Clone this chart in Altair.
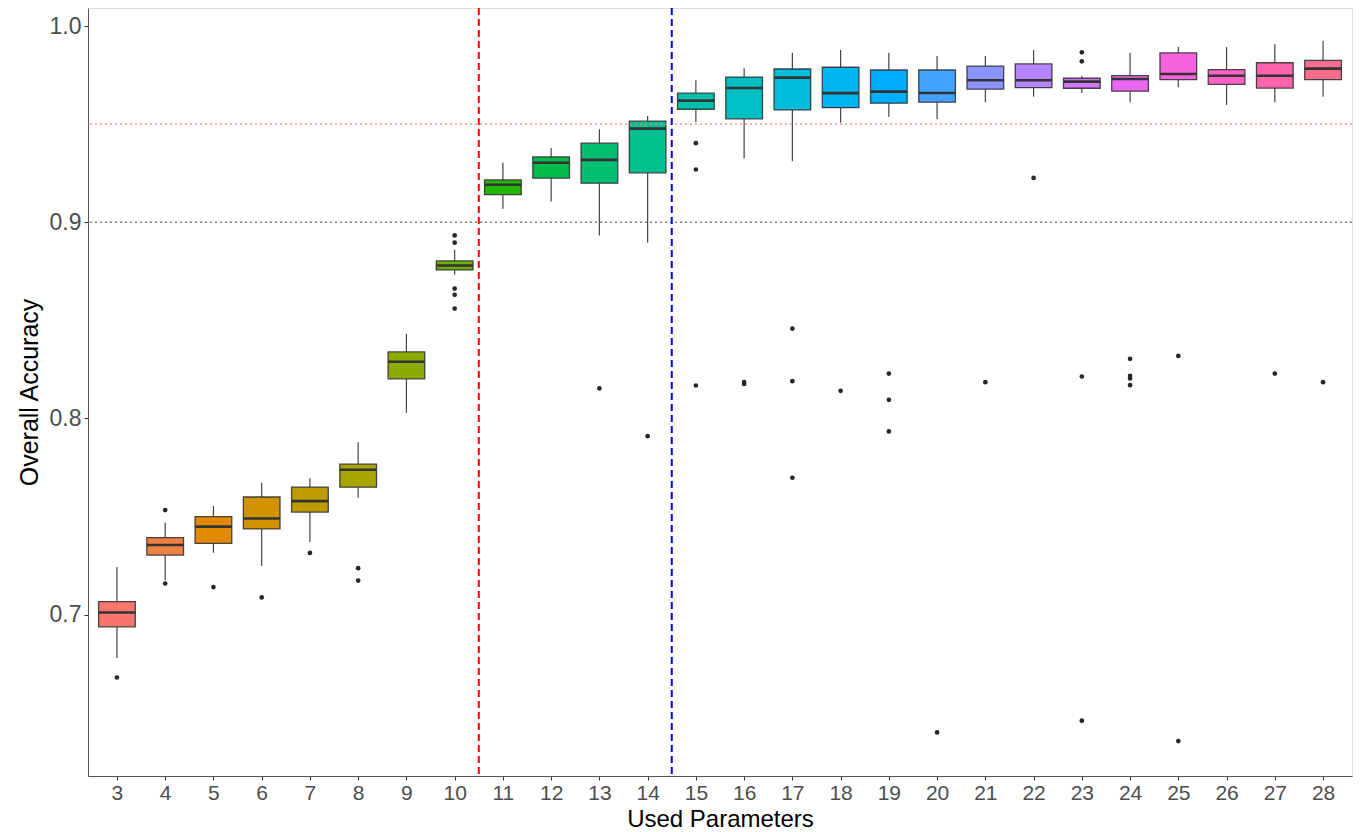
import math
import altair as alt
import pandas as pd

# ---------------- data ----------------
params = list(range(3, 29))
whisker_low = [0.6779, 0.7176, 0.7316, 0.7248, 0.7370, 0.7596, 0.8029, 0.8733, 0.9069, 0.9106,
               0.8933, 0.8897, 0.9510, 0.9325, 0.9311, 0.9508, 0.9537, 0.9525, 0.9612, 0.9640,
               0.9659, 0.9612, 0.9688, 0.9598, 0.9612, 0.9640]
q1 = [0.6938, 0.7304, 0.7364, 0.7437, 0.7523, 0.7650, 0.8202, 0.8757, 0.9141, 0.9225,
      0.9199, 0.9252, 0.9576, 0.9527, 0.9573, 0.9584, 0.9607, 0.9612, 0.9679, 0.9686,
      0.9683, 0.9668, 0.9727, 0.9703, 0.9684, 0.9727]
median = [0.7011, 0.7355, 0.7449, 0.7490, 0.7579, 0.7739, 0.8289, 0.8780, 0.9191, 0.9303,
          0.9318, 0.9477, 0.9620, 0.9684, 0.9737, 0.9658, 0.9666, 0.9659, 0.9724, 0.9724,
          0.9717, 0.9730, 0.9756, 0.9747, 0.9747, 0.9783]
q3 = [0.7067, 0.7393, 0.7500, 0.7600, 0.7650, 0.7767, 0.8339, 0.8803, 0.9216, 0.9333,
      0.9403, 0.9515, 0.9658, 0.9740, 0.9781, 0.9790, 0.9776, 0.9776, 0.9796, 0.9807,
      0.9734, 0.9747, 0.9863, 0.9778, 0.9813, 0.9825]
whisker_high = [0.7243, 0.7469, 0.7554, 0.7673, 0.7695, 0.7879, 0.8431, 0.8860, 0.9303, 0.9379,
                0.9474, 0.9542, 0.9724, 0.9785, 0.9864, 0.9878, 0.9864, 0.9847, 0.9847, 0.9878,
                0.9746, 0.9864, 0.9893, 0.9893, 0.9907, 0.9924]

outlier_param = [3, 4, 4, 5, 6, 7, 8, 8,
                 10, 10, 10, 10, 10,
                 13, 14, 15, 15, 15, 16, 16,
                 17, 17, 17, 18, 19, 19, 19, 20, 21, 22,
                 23, 23, 23, 23, 24, 24, 24, 24, 25, 25, 27, 28]
outlier_value = [0.6680, 0.7533, 0.7159, 0.7141, 0.7088, 0.7315, 0.7237, 0.7174,
                 0.8933, 0.8896, 0.8662, 0.8630, 0.8560,
                 0.8153, 0.7910, 0.9403, 0.9269, 0.8168, 0.8176, 0.8186,
                 0.8458, 0.8190, 0.7698, 0.8141, 0.8229, 0.8095, 0.7934, 0.6400, 0.8185, 0.9226,
                 0.9866, 0.9820, 0.8214, 0.6460, 0.8304, 0.8217, 0.8204, 0.8170, 0.8319, 0.6356,
                 0.8229, 0.8185]

hline_values = [0.95, 0.90]
hline_colors = ["#FF7F7F", "#7F7F7F"]
vline_values = [10.5, 14.5]
vline_colors = ["#FF0000", "#0000FF"]


# ---------------- ggplot-like hue palette ----------------
def hcl_hex(h, c=100.0, l=65.0):
    hr = math.radians(h)
    U, V = c * math.cos(hr), c * math.sin(hr)
    Xn, Yn, Zn = 95.047, 100.0, 108.883
    Y = Yn * (((l + 16) / 116) ** 3 if l > 8 else l / 903.3)
    den = Xn + 15 * Yn + 3 * Zn
    un, vn = 4 * Xn / den, 9 * Yn / den
    u = U / (13 * l) + un
    v = V / (13 * l) + vn
    X = 9.0 * Y * u / (4 * v)
    Z = Y * (12 - 3 * u - 20 * v) / (4 * v)
    X, Y, Z = X / 100, Y / 100, Z / 100
    rgb = [3.240479 * X - 1.537150 * Y - 0.498535 * Z,
           -0.969256 * X + 1.875992 * Y + 0.041556 * Z,
           0.055648 * X - 0.204043 * Y + 1.057311 * Z]
    out = []
    for ch in rgb:
        ch = 12.92 * ch if ch <= 0.0031308 else 1.055 * (ch ** (1 / 2.4)) - 0.055 if ch > 0 else 0
        out.append(int(round(min(max(ch, 0.0), 1.0) * 255)))
    return "#%02X%02X%02X" % tuple(out)


n = len(params)
colors = [hcl_hex(15 + i * 360.0 / n) for i in range(n)]

# ---------------- tables ----------------
box_df = pd.DataFrame({"param": params, "low": whisker_low, "q1": q1, "med": median,
                       "q3": q3, "high": whisker_high})
out_df = pd.DataFrame({"param": outlier_param, "value": outlier_value})
h_df = pd.DataFrame({"v": hline_values, "c": hline_colors})
v_df = pd.DataFrame({"v": vline_values, "c": vline_colors})

FONT = "Liberation Sans"
W, H = 1264, 768

xscale = alt.Scale(domain=[2.4, 28.6], nice=False, zero=False)
yscale = alt.Scale(domain=[0.6178, 1.0092], nice=False, zero=False)

x_axis = alt.Axis(values=params, title="Used Parameters", grid=False,
                  domain=True, domainColor="#555555", domainWidth=1,
                  tickSize=4, tickColor="#333333", tickWidth=1,
                  labelFontSize=21, labelColor="#4D4D4D", labelPadding=2, labelFont=FONT,
                  titleFontSize=24, titleColor="#000000", titleFont=FONT, titleFontWeight="normal",
                  titleX=W / 2, titleY=50, titleBaseline="alphabetic")
y_axis = alt.Axis(values=[0.7, 0.8, 0.9, 1.0], format=".1f", title="Overall Accuracy", grid=False,
                  domain=True, domainColor="#555555", domainWidth=1,
                  tickSize=4, tickColor="#333333", tickWidth=1,
                  labelFontSize=23, labelColor="#4D4D4D", labelPadding=3, labelFont=FONT,
                  titleFontSize=25, titleColor="#000000", titleFont=FONT, titleFontWeight="normal",
                  titleX=-59, titleY=H / 2, titleAngle=-90, titleBaseline="middle")

color_enc = alt.Color("param:N", scale=alt.Scale(domain=params, range=colors), legend=None)

base = alt.Chart(box_df).transform_calculate(
    xl="datum.param - 0.38", xr="datum.param + 0.38"
)

whisk_up = base.mark_rule(color="#444444", strokeWidth=1.2).encode(
    x=alt.X("param:Q", scale=xscale, axis=x_axis),
    y=alt.Y("q3:Q", scale=yscale, axis=y_axis),
    y2="high:Q",
)
whisk_dn = base.mark_rule(color="#444444", strokeWidth=1.2).encode(
    x=alt.X("param:Q", scale=xscale),
    y=alt.Y("low:Q", scale=yscale),
    y2="q1:Q",
)
boxes = base.mark_bar(stroke="#333333", strokeWidth=1.3, strokeOpacity=0.9).encode(
    x=alt.X("xl:Q", scale=xscale),
    x2="xr:Q",
    y=alt.Y("q1:Q", scale=yscale),
    y2="q3:Q",
    color=color_enc,
)
meds = base.mark_rule(color="#333333", strokeWidth=2.6).encode(
    x=alt.X("xl:Q", scale=xscale),
    x2="xr:Q",
    y=alt.Y("med:Q", scale=yscale),
)
outs = alt.Chart(out_df).mark_circle(size=22, color="#262626", opacity=1).encode(
    x=alt.X("param:Q", scale=xscale),
    y=alt.Y("value:Q", scale=yscale),
)
hl = alt.Chart(h_df).mark_rule(strokeDash=[2, 3], strokeWidth=1.3).encode(
    y=alt.Y("v:Q", scale=yscale),
    color=alt.Color("c:N", scale=None, legend=None),
)
vl = alt.Chart(v_df).mark_rule(strokeDash=[7, 4], strokeWidth=2).encode(
    x=alt.X("v:Q", scale=xscale),
    color=alt.Color("c:N", scale=None, legend=None),
)

chart = alt.layer(whisk_up, whisk_dn, boxes, meds, outs, hl, vl).properties(
    width=W, height=H,
    autosize=alt.AutoSizeParams(type="none"),
    padding={"left": 80, "top": 0, "right": 5, "bottom": 56},
).configure_view(
    stroke="#9A9A9A", strokeWidth=1
).configure(background="white")

chart.save("out.html", embed_options={"renderer": "svg", "actions": False})
